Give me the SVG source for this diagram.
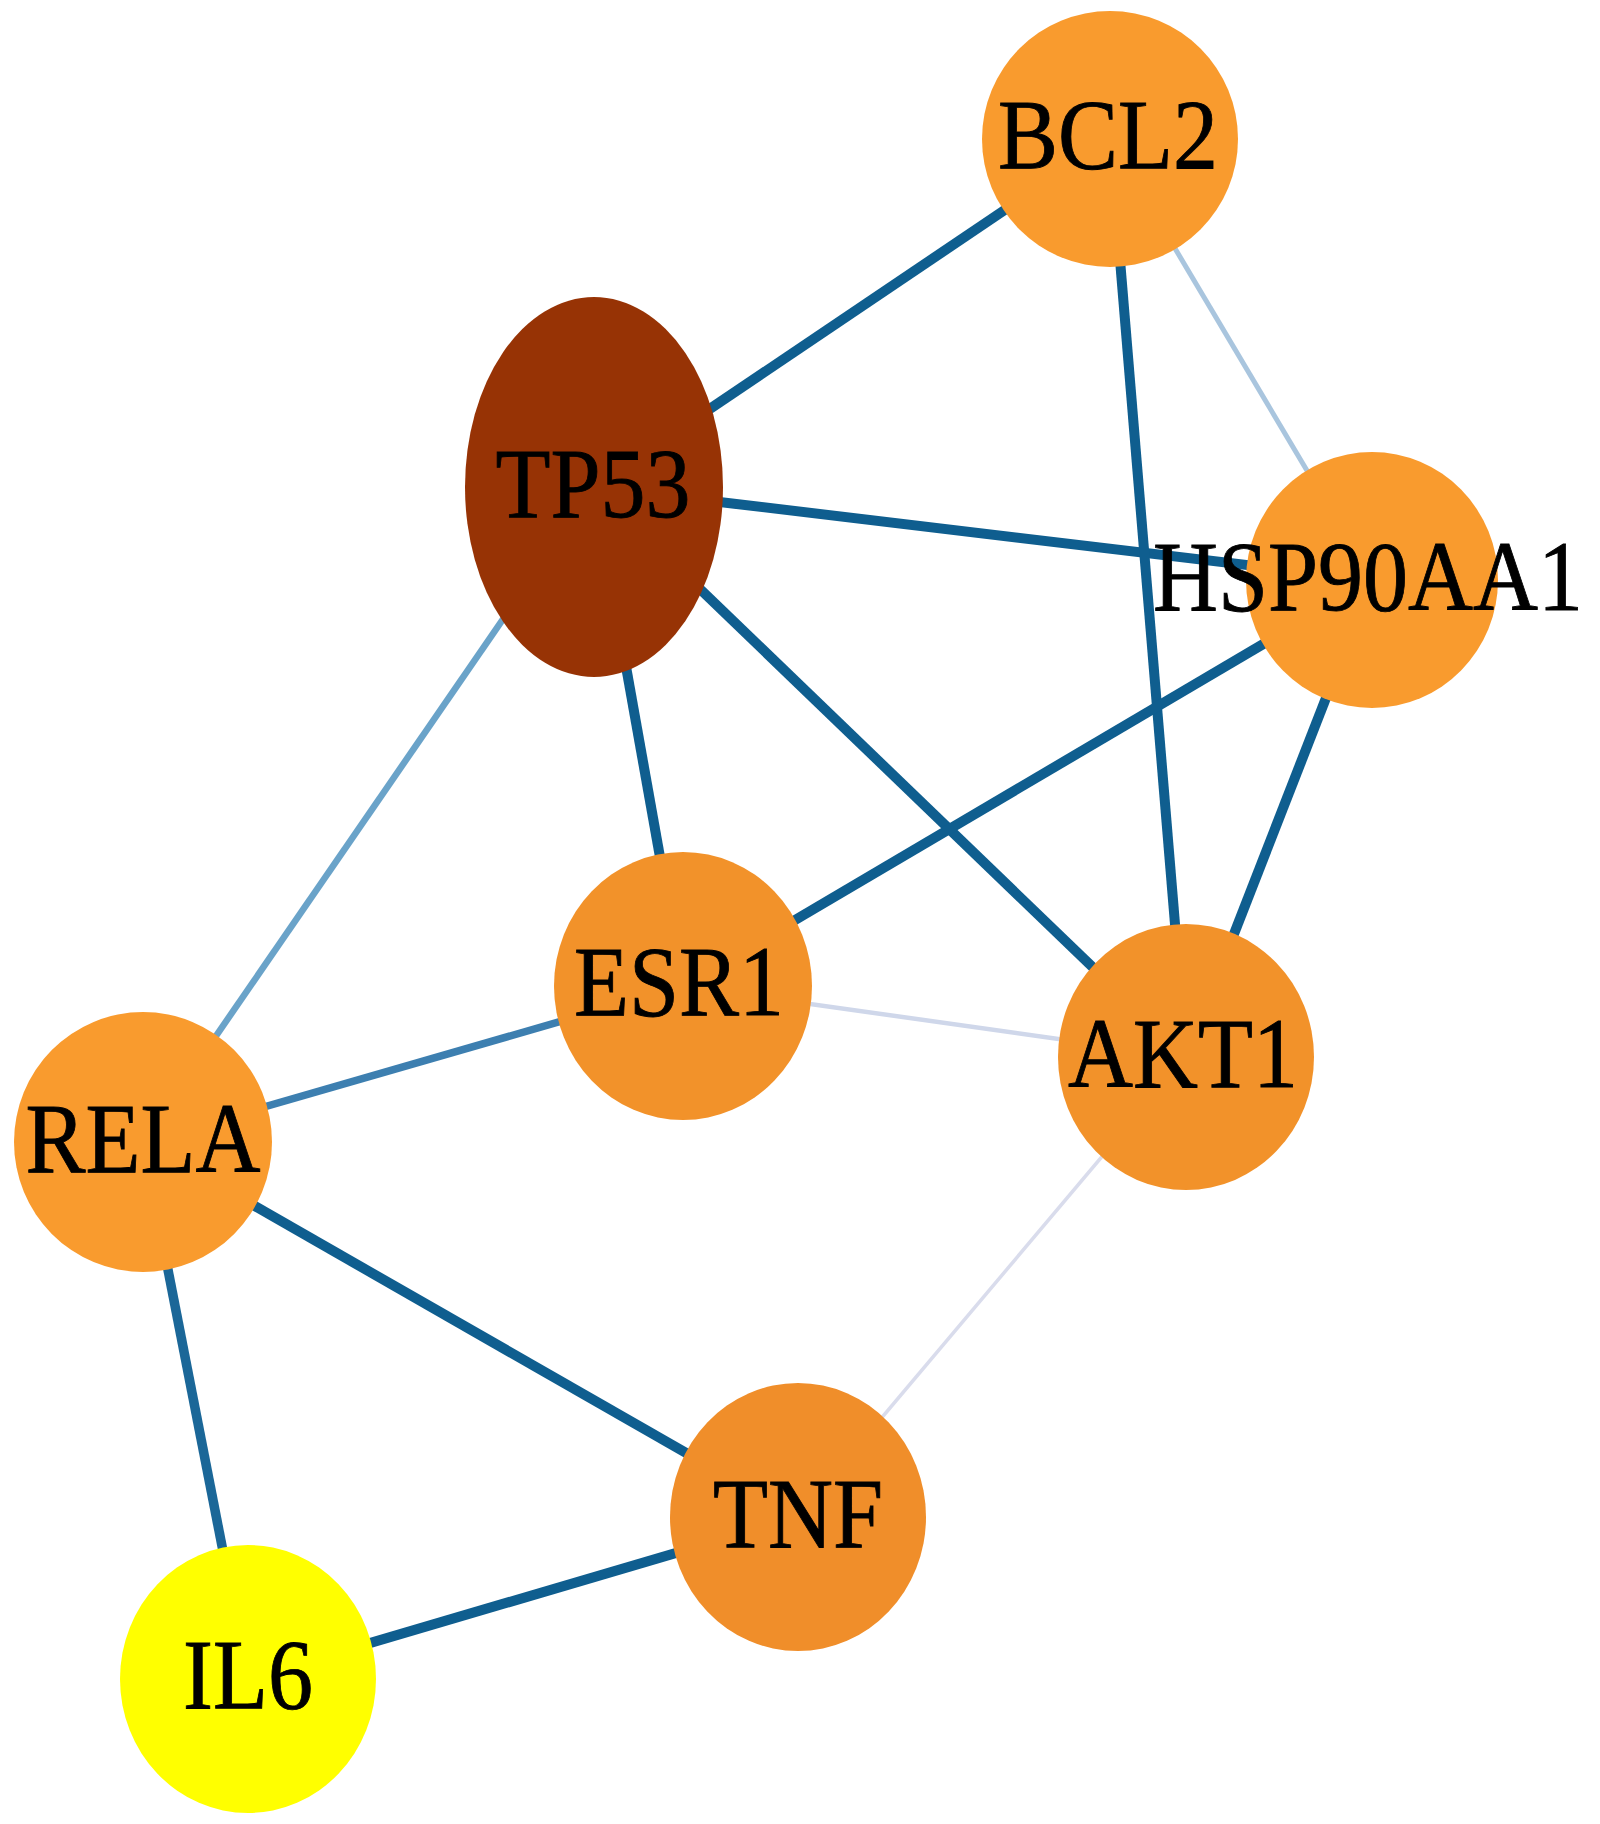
<svg xmlns="http://www.w3.org/2000/svg" width="1600" height="1824" viewBox="0 0 1600 1824">
<style>
.e{fill:none;stroke-linecap:butt}
.d{stroke:#0f5e8f;stroke-width:10}
.l{font-family:"Liberation Serif","Times New Roman",serif;font-size:90px;fill:#000;stroke:#000;stroke-width:0.8;text-anchor:middle}
.o1{fill:#f99b2e}
.o2{fill:#f2922a}
</style>
<rect width="1600" height="1824" fill="#fff"/>
<g id="edges">
<line class="e d" x1="594" y1="487" x2="1110" y2="139"/>
<line class="e d" x1="594" y1="487" x2="1372" y2="580"/>
<line class="e d" x1="594" y1="487" x2="683" y2="986"/>
<line class="e d" x1="594" y1="487" x2="1186" y2="1057"/>
<line class="e" stroke="#6aa3c9" stroke-width="6.5" x1="594" y1="487" x2="143" y2="1142"/>
<line class="e d" x1="1110" y1="139" x2="1186" y2="1057"/>
<line class="e" stroke="#a9c5de" stroke-width="5" x1="1110" y1="139" x2="1372" y2="580"/>
<line class="e d" x1="1372" y1="580" x2="683" y2="986"/>
<line class="e d" x1="1372" y1="580" x2="1186" y2="1057"/>
<line class="e" stroke="#3d7fb0" stroke-width="7.5" x1="683" y1="986" x2="143" y2="1142"/>
<line class="e" stroke="#cfd7ea" stroke-width="4.5" x1="683" y1="986" x2="1186" y2="1057"/>
<line class="e d" x1="143" y1="1142" x2="798" y2="1517"/>
<line class="e" stroke="#1b6798" stroke-width="9.5" x1="143" y1="1142" x2="248" y2="1679"/>
<line class="e d" x1="798" y1="1517" x2="248" y2="1679"/>
<line class="e" stroke="#d9dcec" stroke-width="3.5" x1="1186" y1="1057" x2="798" y2="1517"/>
</g>
<g id="BCL2"><ellipse class="o1" cx="1110" cy="139" rx="128" ry="128"/><text class="l" transform="translate(1108,168) scale(1,1.1)">BCL2</text></g>
<g id="TP53"><ellipse fill="#973305" cx="594" cy="487" rx="129" ry="190"/><text class="l" transform="translate(593,517) scale(1,1.1)">TP53</text></g>
<g id="HSP90AA1"><ellipse class="o1" cx="1372" cy="580" rx="126" ry="128"/><text class="l" transform="translate(1368,610) scale(1,1.1)">HSP90AA1</text></g>
<g id="ESR1"><ellipse class="o2" cx="683" cy="986" rx="129" ry="134"/><text class="l" transform="translate(679,1015) scale(1,1.1)">ESR1</text></g>
<g id="AKT1"><ellipse class="o2" cx="1186" cy="1057" rx="128" ry="133"/><text class="l" transform="translate(1183,1087) scale(1,1.1)">AKT1</text></g>
<g id="RELA"><ellipse class="o1" cx="143" cy="1142" rx="129" ry="130"/><text class="l" transform="translate(143,1172) scale(1,1.1)">RELA</text></g>
<g id="TNF"><ellipse fill="#f08e2a" cx="798" cy="1517" rx="128" ry="134"/><text class="l" transform="translate(798,1547) scale(1,1.1)">TNF</text></g>
<g id="IL6"><ellipse fill="#ffff00" cx="248" cy="1679" rx="128" ry="134"/><text class="l" transform="translate(248,1708) scale(1,1.1)">IL6</text></g>
</svg>
